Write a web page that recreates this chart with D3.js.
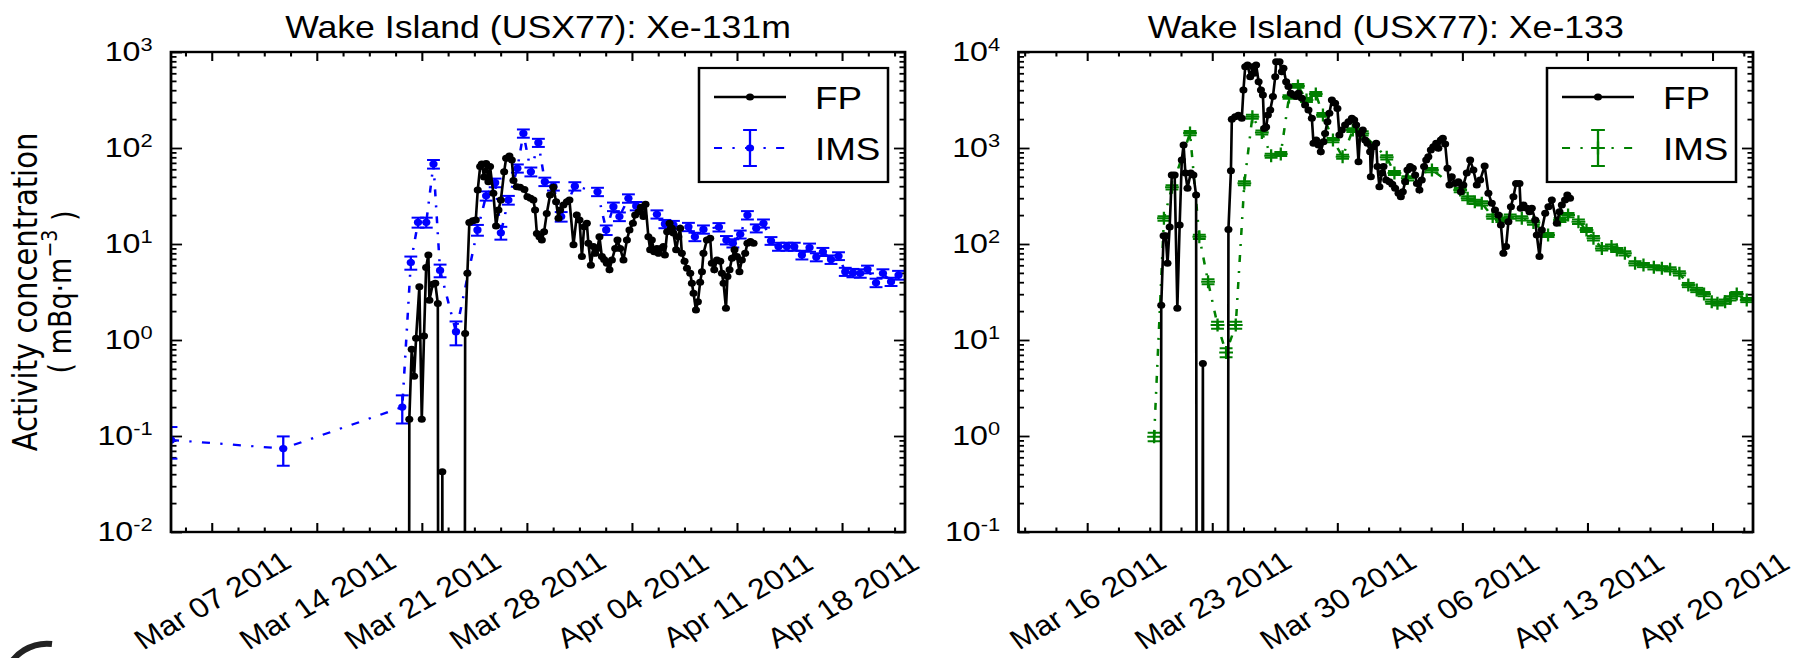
<!DOCTYPE html>
<html>
<head>
<meta charset="utf-8">
<script src="https://cdn.jsdelivr.net/npm/d3@7"></script>
<style>
  body { margin: 0; background: #fff; }
  text { font-family: "Liberation Sans", Arial, sans-serif; }
</style>
</head>
<body>
<svg id="chart"></svg>
<script>
// days are counted from "March 0 2011", so Apr 1 = 32
const fp131Days = [20.04,20.17,20.33,20.49,20.62,20.84,21.0,21.15,21.29,21.44,21.51,21.73,21.9,22.07,22.2,22.37,22.5,23.75,23.89,24.04,24.17,24.4,24.6,24.73,24.89,25.0,25.15,25.29,25.44,25.55,25.77,25.95,26.11,26.27,26.49,26.62,26.84,27.0,27.11,27.33,27.55,27.84,28.04,28.25,28.44,28.55,28.67,28.84,29.0,29.15,29.33,29.55,29.77,29.95,30.11,30.22,30.44,30.67,30.84,31.11,31.33,31.51,31.67,31.82,32.0,32.1,32.27,32.44,32.55,32.71,32.84,33.0,33.15,33.33,33.51,33.67,33.89,34.04,34.22,34.44,34.67,34.84,35.07,35.22,35.44,35.6,35.77,35.91,36.1,36.22,36.33,36.49,36.67,36.77,36.95,37.1,37.2,37.35,37.51,37.67,37.77,37.95,38.1,38.22,38.33,38.51,38.67,38.89,39.0,39.11,39.27,39.4,39.55,39.67,39.77,40.0,40.22,40.33,40.49,40.67,40.89,41.0,41.11,41.27,41.37,41.51,41.67,41.84,42.0,42.17,42.33,42.55,42.7,42.9,43.11];
const fp131Values = [0,0.149,0.80,0.42,1.04,3.59,0.149,1.10,5.7,7.7,2.6,3.8,3.9,2.4,0,0.0425,0,0,1.17,4.95,16.7,17.5,17.8,36.5,64,68,50,69,44.6,64,33.7,15.4,22.6,28.7,56.6,78,82.6,75,46,39.5,39,37,31,30,28.7,22.6,12.9,11.9,11.0,13.4,20.8,32.4,38.9,27.5,18.5,22.6,25.5,27.5,28.7,9.8,20,17.8,7.4,15.1,16.4,10.2,6.0,9.4,8.0,9.0,11.9,7.4,6.9,6.3,5.4,6.8,9.0,11.0,9.0,6.8,11.0,14,16.4,20,21.6,24.1,19.3,26,11.9,8.7,11,8.3,9,8.0,9.0,9.4,7.7,13.4,16.4,14.6,13.0,8.7,11.9,14.6,8.0,6.6,5.6,4.95,3.9,3.06,2.05,2.5,4.0,5.15,8.0,11.0,11.5,6.3,5.4,6.8,6.6,4.95,3.9,2.14,4.6,5.4,7.1,8.7,7.4,5.15,6.8,8.0,10.2,10.6,10.2];

const ims131Days = [4.29,11.77,19.70,20.27,20.75,21.3,21.78,22.22,23.28,24.71,25.29,25.89,26.27,26.77,27.37,27.77,28.27,28.77,29.2,29.77,30.29,31.2,32.71,33.29,33.77,34.17,34.77,35.29,36.67,37.2,37.77,38.77,39.2,39.77,40.8,41.3,41.73,42.22,42.7,43.29,43.77,44.27,44.77,45.33,45.82,46.33,46.84,47.29,47.73,48.27,48.77,49.22,49.73,50.22,50.7,51.27,51.73,52.27,52.77];
const ims131Values = [0.091,0.074,0.20,6.4,16.8,16.8,68,5.3,1.22,14.0,31.8,43.5,13.1,28.7,61.4,142,56.6,113.6,44.6,40,19.3,40,35,14,24.5,19.3,29.9,24.9,20.4,16.2,15.8,15.1,11.9,14.2,15.0,11.0,10.2,12.6,20.0,14.6,16.4,10.8,9.4,9.4,9.4,7.7,9.2,7.3,8.3,6.9,7.5,5.15,5.0,4.95,5.45,3.95,4.95,4.05,4.75];
const ims131Errors = [0.033,0.025,0.065,1.0,2.0,2.0,7,0.8,0.34,1.8,3.5,4.5,2.0,3,6,14,6,11,4.5,4,2.2,4,3.5,1.6,2.5,2,3,2.5,2,1.6,1.6,1.5,1.2,1.4,1.5,1.1,1.0,1.2,2,1.4,1.6,1.0,0.9,0.9,0.9,0.8,0.9,0.7,0.8,0.7,0.7,0.5,0.5,0.5,0.5,0.4,0.5,0.4,0.5];

const fp133Days = [20.02,20.15,20.28,20.4,20.5,20.62,20.74,20.9,21.05,21.18,21.3,21.4,21.5,21.62,21.8,21.95,22.1,22.25,22.48,22.6,23.78,23.91,24.05,24.1,24.29,24.47,24.66,24.75,24.85,24.98,25.13,25.28,25.35,25.46,25.6,25.73,25.84,25.91,26.02,26.12,26.25,26.4,26.53,26.58,26.77,26.9,26.99,27.14,27.27,27.4,27.55,27.7,27.83,28.02,28.2,28.39,28.58,28.67,28.82,28.95,29.08,29.23,29.32,29.45,29.56,29.7,29.88,30.01,30.12,30.26,30.44,30.63,30.82,30.95,31.06,31.19,31.28,31.43,31.56,31.69,31.84,31.88,32.03,32.18,32.25,32.36,32.5,32.59,32.74,32.92,33.08,33.24,33.43,33.56,33.67,33.8,33.93,34.08,34.23,34.36,34.46,34.6,34.73,34.86,34.98,35.1,35.24,35.38,35.54,35.66,35.8,35.91,36.04,36.17,36.28,36.41,36.6,36.78,36.92,37.06,37.25,37.44,37.62,37.81,38.0,38.25,38.46,38.65,38.83,39.02,39.16,39.3,39.45,39.58,39.72,39.86,40.01,40.2,40.27,40.42,40.61,40.76,40.89,41.08,41.17,41.32,41.45,41.64,41.82,42.01,42.29,42.44,42.57,42.75,42.88,43.03];
const fp133Values = [0,23,122,122,63,150,524,524,21.4,158,750,1075,550,380,550,524,324,0,5.7,0,0,142,580,1990,2120,2200,2040,4020,7030,7330,5530,7030,6000,7330,4900,4020,3570,1600,1650,2210,2490,3430,5530,7930,7930,6240,6760,4900,4360,3720,3570,3430,3720,3300,2800,2490,2040,1120,1210,1075,916,1165,1420,1880,2300,3160,2920,2580,1365,1540,1740,1880,2040,1960,1740,720,1420,1540,1210,1120,916,502,1030,1120,640,395,550,640,464,446,420,380,337,311,351,446,590,640,615,524,428,365,464,640,750,813,953,1030,1120,993,1210,1260,1100,615,412,502,428,446,351,412,550,750,590,412,464,650,337,265,226,200,158,80,94,171,245,311,428,428,236,255,236,217,236,178,124,74,140,209,245,287,164,217,255,287,324,300];

const ims133Days = [19.75,20.3,20.75,21.76,22.28,22.77,23.3,23.78,24.32,24.8,25.25,25.78,26.3,26.84,27.3,27.8,28.28,28.8,29.2,29.76,30.3,30.87,31.4,32.77,33.2,33.95,35.3,36.88,37.3,37.7,38.09,38.7,39.21,39.68,40.33,40.98,41.8,42.47,42.92,43.5,43.95,44.34,44.81,45.35,45.65,46.1,46.67,47.14,47.72,48.17,48.63,49.15,49.65,50.12,50.53,50.96,51.28,51.71,51.99,52.36,52.92];
const ims133Values = [0.98,185,390,1430,119,40.5,14.3,7.4,14.3,430,2120,1450,830,866,3400,4430,3160,3650,2210,1210,813,1540,1420,800,550,483,590,365,300,275,265,193,178,193,185,167,124,178,200,171,140,115,90,94,86.6,80,63,60.4,57.2,56,54.5,49.5,37.4,33.2,30.1,25.1,24.1,25.1,27.2,30.1,26.1];
const ims133Errors = [0.1,10,20,70,6,2.5,1.2,0.8,1.2,20,100,70,40,40,150,200,150,170,100,60,40,70,70,40,27,24,30,18,15,14,13,10,9,10,9,8,6,9,10,9,7,6,4.5,4.7,4.3,4,3.2,3,2.9,2.8,2.7,2.5,1.9,1.7,1.5,1.3,1.2,1.3,1.4,1.5,1.3];

const tickDays131 = [7, 14, 21, 28, 35, 42, 49];
const tickDays133 = [16, 23, 30, 37, 44, 51];

const K = 1.15;                  // the picture is stretched sideways
const W = 1810, H = 658;
const plotTop = 52, plotBottom = 532;
const day0 = Date.UTC(2011, 1, 28);
const toDate = d => new Date(day0 + d * 864e5);
const fmt = d3.utcFormat('%b %d %Y');

const svg = d3.select('#chart').attr('width', W).attr('height', H);
const root = svg.append('g').attr('transform', `scale(${K},1)`);

function zip(days, vals, errs) {
  return days.map((t, i) => ({ t: t, v: vals[i], e: errs ? errs[i] : 0 }));
}

function drawPanel(cfg) {
  const x = d3.scaleUtc().domain(cfg.xDomain.map(toDate)).range([cfg.left / K, cfg.right / K]);
  const y = d3.scaleLog().domain(cfg.yDomain).range([plotBottom, plotTop]);
  const g = root.append('g');

  const clipId = 'clip' + cfg.id;
  g.append('clipPath').attr('id', clipId).append('rect')
    .attr('x', x.range()[0]).attr('y', plotTop)
    .attr('width', x.range()[1] - x.range()[0]).attr('height', plotBottom - plotTop);

  // ticks
  const minorDays = [];
  for (let d = cfg.ticks[0] - 7; d <= cfg.xDomain[1]; d += 1.75) {
    if (d >= cfg.xDomain[0] && !cfg.ticks.some(t => Math.abs(t - d) < 0.01)) minorDays.push(d);
  }
  const decades = d3.range(Math.log10(cfg.yDomain[0]), Math.log10(cfg.yDomain[1]) + 1).map(e => Math.pow(10, e));
  const minorY = [];
  decades.slice(0, -1).forEach(dv => { for (let m = 2; m < 10; m++) minorY.push(dv * m); });

  const axes = [
    [d3.axisBottom(x), plotBottom, true], [d3.axisTop(x), plotTop, false]
  ];
  axes.forEach(([ax, yy, labels]) => {
    g.append('g').attr('transform', `translate(0,${yy})`)
      .call(ax.tickValues(minorDays.map(toDate)).tickSize(-4.5).tickFormat(''))
      .call(s => s.select('.domain').remove());
    const gm = g.append('g').attr('transform', `translate(0,${yy})`)
      .call(ax.tickValues(cfg.ticks.map(toDate)).tickSize(-9).tickFormat(labels ? fmt : ''))
      .call(s => s.select('.domain').remove());
    if (labels) {
      gm.selectAll('.tick text')
        .attr('y', 0).attr('dy', '0.35em')
        .attr('text-anchor', 'middle')
        .attr('font-size', 28).attr('fill', '#000')
        .attr('font-family', '"Liberation Sans", Arial, sans-serif')
        .attr('transform', 'translate(0,68) rotate(-33)');
    }
  });

  const yAxes = [
    [d3.axisLeft(y), cfg.left / K, true], [d3.axisRight(y), cfg.right / K, false]
  ];
  yAxes.forEach(([ax, xx, labels]) => {
    g.append('g').attr('transform', `translate(${xx},0)`)
      .call(ax.tickValues(minorY).tickSize(-4.8).tickFormat(''))
      .call(s => s.select('.domain').remove());
    const gm = g.append('g').attr('transform', `translate(${xx},0)`)
      .call(ax.tickValues(decades).tickSize(-9.6).tickPadding(16).tickFormat(labels ? (d => '10') : ''))
      .call(s => s.select('.domain').remove());
    if (labels) {
      gm.selectAll('.tick text')
        .attr('font-size', 28).attr('fill', '#000')
        .attr('font-family', '"Liberation Sans", Arial, sans-serif')
        .each(function (d) {
          d3.select(this).append('tspan')
            .attr('dy', '-0.55em').attr('font-size', 19)
            .text(String(Math.round(Math.log10(d))));
        });
    }
  });
  g.selectAll('.tick line').attr('stroke', '#000').attr('stroke-width', 1.8);

  // data
  const plot = g.append('g').attr('clip-path', `url(#${clipId})`);
  const px = d => x(toDate(d.t));
  const py = d => y(Math.max(d.v, 1e-20));
  const line = d3.line().x(px).y(py);

  const ims = zip(cfg.imsDays, cfg.imsValues, cfg.imsErrors);
  plot.append('path').datum(ims).attr('d', line)
    .attr('fill', 'none').attr('stroke', cfg.imsColor).attr('stroke-width', 2.2)
    .attr('stroke-dasharray', '7,9,2,9');
  const eb = plot.append('g').attr('stroke', cfg.imsColor).attr('stroke-width', 2);
  ims.forEach(d => {
    const lo = y(Math.max(d.v - d.e, 1e-20)), hi = y(d.v + d.e), cx = px(d);
    eb.append('line').attr('x1', cx).attr('x2', cx).attr('y1', lo).attr('y2', hi);
    eb.append('line').attr('x1', cx - 5.6).attr('x2', cx + 5.6).attr('y1', lo).attr('y2', lo);
    eb.append('line').attr('x1', cx - 5.6).attr('x2', cx + 5.6).attr('y1', hi).attr('y2', hi);
  });
  if (cfg.imsMarker === 'o') {
    plot.append('g').selectAll('circle').data(ims).join('circle')
      .attr('cx', px).attr('cy', py).attr('r', 3.6).attr('fill', cfg.imsColor);
  } else {
    plot.append('g').selectAll('path').data(ims).join('path')
      .attr('d', d => `M${px(d) - 6},${py(d)}h12M${px(d)},${py(d) - 6.5}v13`)
      .attr('stroke', cfg.imsColor).attr('stroke-width', 2);
  }

  const fp = zip(cfg.fpDays, cfg.fpValues);
  plot.append('path').datum(fp).attr('d', line)
    .attr('fill', 'none').attr('stroke', '#000').attr('stroke-width', 2.3);
  plot.append('g').selectAll('circle').data(fp.filter(d => d.v > 0)).join('circle')
    .attr('cx', px).attr('cy', py).attr('r', 3.5).attr('fill', '#000');

  // frame
  g.append('rect')
    .attr('x', x.range()[0]).attr('y', plotTop)
    .attr('width', x.range()[1] - x.range()[0]).attr('height', plotBottom - plotTop)
    .attr('fill', 'none').attr('stroke', '#000').attr('stroke-width', 2.4);

  // title
  g.append('text')
    .attr('x', (cfg.left + cfg.right) / 2 / K).attr('y', 38)
    .attr('text-anchor', 'middle').attr('font-size', 31).attr('fill', '#000')
    .text(cfg.title);

  // legend
  const lx = cfg.right / K - (17 + 189) / K;
  const lg = g.append('g').attr('transform', `translate(${lx},68)`);
  lg.append('rect').attr('width', 189 / K).attr('height', 114)
    .attr('fill', '#fff').attr('stroke', '#000').attr('stroke-width', 2.2);
  const sx0 = 15 / K, sx1 = 87 / K, sm = (sx0 + sx1) / 2;
  lg.append('line').attr('x1', sx0).attr('x2', sx1).attr('y1', 29).attr('y2', 29)
    .attr('stroke', '#000').attr('stroke-width', 2.3);
  lg.append('circle').attr('cx', sm).attr('cy', 29).attr('r', 3.5).attr('fill', '#000');
  lg.append('line').attr('x1', sx0).attr('x2', sx1).attr('y1', 80).attr('y2', 80)
    .attr('stroke', cfg.imsColor).attr('stroke-width', 2.2).attr('stroke-dasharray', '7,9,2,9');
  lg.append('line').attr('x1', sm).attr('x2', sm).attr('y1', 62).attr('y2', 98)
    .attr('stroke', cfg.imsColor).attr('stroke-width', 2);
  [62, 98].forEach(yy => lg.append('line').attr('x1', sm - 6).attr('x2', sm + 6)
    .attr('y1', yy).attr('y2', yy).attr('stroke', cfg.imsColor).attr('stroke-width', 2));
  if (cfg.imsMarker === 'o') {
    lg.append('circle').attr('cx', sm).attr('cy', 80).attr('r', 3.6).attr('fill', cfg.imsColor);
  } else {
    lg.append('path').attr('d', `M${sm - 6},80h12M${sm},73.5v13`)
      .attr('stroke', cfg.imsColor).attr('stroke-width', 2);
  }
  lg.append('text').attr('x', 116 / K).attr('y', 41).attr('font-size', 32).text('FP');
  lg.append('text').attr('x', 116 / K).attr('y', 92).attr('font-size', 32).text('IMS');
}

drawPanel({
  id: 'a', left: 171, right: 905, xDomain: [4.29, 53.2], yDomain: [1e-2, 1e3],
  ticks: tickDays131, title: 'Wake Island (USX77): Xe-131m',
  fpDays: fp131Days, fpValues: fp131Values,
  imsDays: ims131Days, imsValues: ims131Values, imsErrors: ims131Errors,
  imsColor: '#0000ff', imsMarker: 'o'
});
drawPanel({
  id: 'b', left: 1018.5, right: 1753, xDomain: [12.16, 53.27], yDomain: [1e-1, 1e4],
  ticks: tickDays133, title: 'Wake Island (USX77): Xe-133',
  fpDays: fp133Days, fpValues: fp133Values,
  imsDays: ims133Days, imsValues: ims133Values, imsErrors: ims133Errors,
  imsColor: '#008000', imsMarker: '+'
});

// y label
const yl = root.append('g');
yl.append('text').attr('text-anchor', 'middle').attr('dominant-baseline', 'central')
  .attr('transform', `translate(${25 / K},292) rotate(-90)`)
  .attr('font-size', 29)
  .style('font-family', '"DejaVu Sans", sans-serif')
  .text('Activity concentration');
const yl2 = yl.append('text').attr('text-anchor', 'middle').attr('dominant-baseline', 'central')
  .attr('transform', `translate(${60 / K},292) rotate(-90)`)
  .attr('font-size', 27)
  .style('font-family', '"DejaVu Sans", sans-serif');
yl2.append('tspan').text('( mBq·m');
yl2.append('tspan').attr('dy', '-0.5em').attr('font-size', 19).text('−3');
yl2.append('tspan').attr('dy', '0.5em').text(' )');

// bit of the slide logo peeking in at the bottom left corner
svg.append('path').attr('d', 'M6,672 A44,44 0 0 1 52,644')
  .attr('fill', 'none').attr('stroke', '#222').attr('stroke-width', 6);
</script>
</body>
</html>
